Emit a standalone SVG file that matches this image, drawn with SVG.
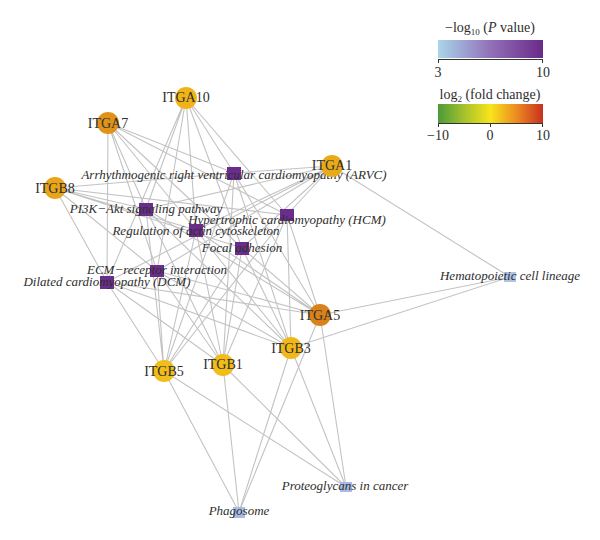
<svg xmlns="http://www.w3.org/2000/svg" width="600" height="540" viewBox="0 0 600 540">
<style>
.e{stroke:#c3c3c3;stroke-width:1.1;fill:none}
.g text{font-family:"Liberation Serif",serif;font-size:14px;fill:#2e2e2e;text-anchor:middle}
.p text{font-family:"Liberation Serif",serif;font-size:13px;font-style:italic;fill:#2e2e2e;text-anchor:middle}
.pu{fill:#6b2d8b}
.lb{fill:#a9bbe4}
.lt{font-family:"Liberation Serif",serif;font-size:14px;fill:#2e2e2e;text-anchor:middle}
.ax{stroke:#333;stroke-width:1;fill:none}
</style>
<defs>
<linearGradient id="gp" x1="0" x2="1" y1="0" y2="0">
<stop offset="0" stop-color="#a9d6ea"/><stop offset="0.5" stop-color="#9270b8"/><stop offset="1" stop-color="#6a2a8a"/>
</linearGradient>
<linearGradient id="gf" x1="0" x2="1" y1="0" y2="0">
<stop offset="0" stop-color="#4c9a3a"/><stop offset="0.25" stop-color="#a6c22c"/><stop offset="0.5" stop-color="#f8e41a"/><stop offset="0.75" stop-color="#ec8a22"/><stop offset="1" stop-color="#c8301e"/>
</linearGradient>
</defs>
<g id="connectors">
<path class="e" d="M186 98L234 173M186 98L146 209M186 98L287 215M186 98L196 230M186 98L242 248M186 98L157 271M186 98L107 282"/>
<path class="e" d="M108 123L234 173M108 123L146 209M108 123L287 215M108 123L196 230M108 123L242 248M108 123L157 271M108 123L107 282"/>
<path class="e" d="M55 188L234 173M55 188L146 209M55 188L287 215M55 188L196 230M55 188L242 248M55 188L157 271M55 188L107 282"/>
<path class="e" d="M332 166L234 173M332 166L146 209M332 166L287 215M332 166L196 230M332 166L242 248M332 166L157 271M332 166L107 282M332 166L510 277"/>
<path class="e" d="M320 315L234 173M320 315L146 209M320 315L287 215M320 315L196 230M320 315L242 248M320 315L157 271M320 315L107 282M320 315L510 277M320 315L346 487M320 315L239 512"/>
<path class="e" d="M291 348L234 173M291 348L146 209M291 348L287 215M291 348L196 230M291 348L242 248M291 348L157 271M291 348L107 282M291 348L510 277M291 348L346 487M291 348L239 512"/>
<path class="e" d="M223 365L234 173M223 365L146 209M223 365L287 215M223 365L196 230M223 365L242 248M223 365L157 271M223 365L107 282M223 365L346 487M223 365L239 512"/>
<path class="e" d="M164 371L234 173M164 371L146 209M164 371L287 215M164 371L196 230M164 371L242 248M164 371L157 271M164 371L107 282M164 371L346 487M164 371L239 512"/>
</g>
<g id="pathways">
<g id="arvc" class="p"><rect class="pu" x="227" y="167" width="14" height="13"/><text x="234" y="179">Arrhythmogenic right ventricular cardiomyopathy (ARVC)</text></g>
<g id="pi3k" class="p"><rect class="pu" x="139" y="203" width="14" height="13"/><text x="146" y="213">PI3K−Akt signaling pathway</text></g>
<g id="hcm" class="p"><rect class="pu" x="280" y="209" width="14" height="12"/><text x="287" y="224">Hypertrophic cardiomyopathy (HCM)</text></g>
<g id="actin" class="p"><rect class="pu" x="189" y="224" width="14" height="13"/><text x="196" y="235">Regulation of actin cytoskeleton</text></g>
<g id="focal" class="p"><rect class="pu" x="235" y="242" width="14" height="13"/><text x="242" y="252">Focal adhesion</text></g>
<g id="ecm" class="p"><rect class="pu" x="150" y="265" width="14" height="12"/><text x="157" y="274">ECM−receptor interaction</text></g>
<g id="dcm" class="p"><rect class="pu" x="100" y="276" width="14" height="13"/><text x="107" y="286">Dilated cardiomyopathy (DCM)</text></g>
<g id="hema" class="p"><rect class="lb" x="504" y="272" width="12" height="10" fill-opacity="0.9"/><text x="510" y="280">Hematopoietic cell lineage</text></g>
<g id="proteo" class="p"><rect class="lb" x="340" y="482" width="12" height="10"/><text x="345" y="490">Proteoglycans in cancer</text></g>
<g id="phago" class="p"><rect class="lb" x="233" y="507" width="12" height="11"/><text x="239" y="515">Phagosome</text></g>
</g>
<g id="genes">
<g id="ITGA10" class="g"><ellipse cx="186" cy="98" rx="11" ry="11" fill="#f0b419"/><text x="186" y="102">ITGA10</text></g>
<g id="ITGA7" class="g"><ellipse cx="108" cy="123" rx="11" ry="11" fill="#e0921a"/><text x="108" y="128">ITGA7</text></g>
<g id="ITGB8" class="g"><ellipse cx="55" cy="188" rx="11" ry="11" fill="#e8a51a"/><text x="55" y="193">ITGB8</text></g>
<g id="ITGA1" class="g"><ellipse cx="332" cy="166" rx="11" ry="11" fill="#e9aa19"/><text x="332" y="170">ITGA1</text></g>
<g id="ITGA5" class="g"><ellipse cx="320" cy="315" rx="11" ry="11" fill="#d8821a"/><text x="320" y="320">ITGA5</text></g>
<g id="ITGB3" class="g"><ellipse cx="291" cy="348" rx="11" ry="11" fill="#f0b919"/><text x="291" y="353">ITGB3</text></g>
<g id="ITGB1" class="g"><ellipse cx="223" cy="365" rx="11" ry="11" fill="#f2bd18"/><text x="223" y="369">ITGB1</text></g>
<g id="ITGB5" class="g"><ellipse cx="164" cy="371" rx="11" ry="11" fill="#f1bd18"/><text x="164" y="376">ITGB5</text></g>
</g>
<g id="legend">
<text class="lt" x="490" y="32">−log<tspan font-size="9" dy="3">10</tspan><tspan dy="-3"> (</tspan><tspan font-style="italic">P</tspan> value)</text>
<rect x="438" y="40" width="105" height="18" fill="url(#gp)"/>
<path class="ax" d="M438 59.5H543M438.5 59V63M542.5 59V63"/>
<text class="lt" x="438" y="77">3</text>
<text class="lt" x="543" y="77">10</text>
<text class="lt" x="490" y="99">log<tspan font-size="9" dy="3">2</tspan><tspan dy="-3"> (fold change)</tspan></text>
<rect x="438" y="104" width="105" height="19" fill="url(#gf)"/>
<path class="ax" d="M438 123.5H543M438.5 123V127M490.5 123V127M542.5 123V127"/>
<text class="lt" x="438" y="140">−10</text>
<text class="lt" x="490" y="140">0</text>
<text class="lt" x="543" y="140">10</text>
</g>
</svg>
